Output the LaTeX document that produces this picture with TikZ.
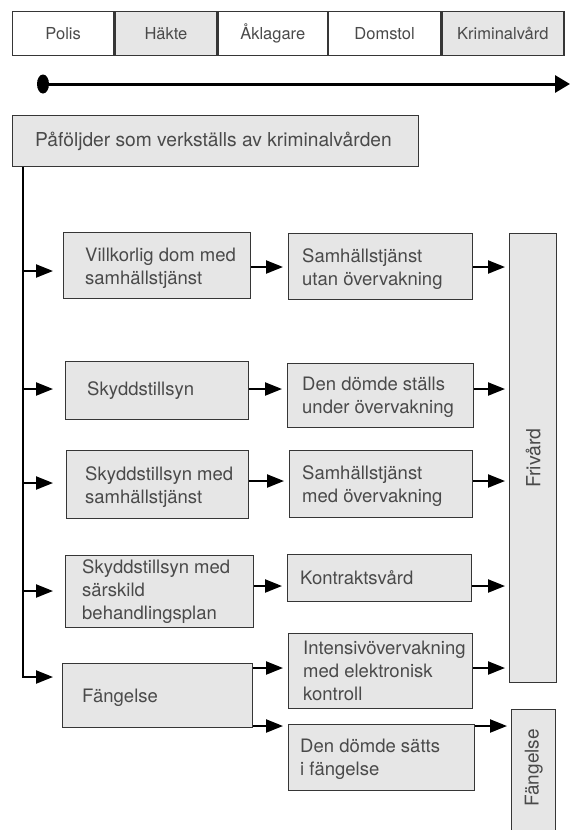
\documentclass[tikz,border=0pt]{standalone}
\usepackage{fontspec}
\setmainfont{TeX Gyre Heros}
\usepackage{xcolor}
\usepackage{tikz}
\usetikzlibrary{shapes.geometric}
\usetikzlibrary{positioning}
\usetikzlibrary{arrows.meta}

\definecolor{boxgray}{HTML}{E6E6E6}
\definecolor{edgegray}{HTML}{363636}
\definecolor{textgray}{HTML}{4A4A4A}

\tikzset{
  box/.style={draw=edgegray, fill=boxgray, line width=1.3pt, anchor=north west, inner sep=0pt, text=textgray},
  stage/.style={box, minimum height=44pt, font=\fontsize{16.5}{20}\selectfont},
  lbl/.style={align=left, inner sep=0pt, text=textgray, font=\fontsize{18.5}{23}\selectfont},
  arr/.style={-{Triangle[length=17pt,width=13pt]}, line width=2.2pt},
}

\begin{document}
\begin{tikzpicture}[x=1pt, y=-1pt]
  \useasboundingbox (0,0) rectangle (570,830);

  % stages
  \node [stage, fill=white, minimum width=101pt] (polis) at (12,11) {Polis};
  \node [stage, minimum width=102pt] (hakte) at (polis.north east) {Häkte};
  \node [stage, fill=white, minimum width=109pt] (aklagare) at (hakte.north east) {Åklagare};
  \node [stage, fill=white, minimum width=112pt] (domstol) at (aklagare.north east) {Domstol};
  \node [stage, minimum width=122pt] (krim) at (domstol.north east) {Kriminalvård};

  % time line
  \node [ellipse, fill=black, minimum width=12pt, minimum height=19pt, inner sep=0pt] (start) at (43,84) {};
  \coordinate (stop) at (570,84);
  \draw [-{Triangle[length=15pt,width=17pt]}, line width=3pt] (start.center) -- (stop);

  % title
  \node [box, minimum width=406pt, minimum height=51pt] (title) at (12,115) {};
  \node [lbl, right=23pt of title.west, font=\fontsize{19.2}{23}\selectfont] {Påföljder som verkställs av kriminalvården};

  % left column
  \node [box, minimum width=187pt, minimum height=66pt] (villkor) at (63,232) {};
  \node [lbl, right=22pt of villkor.west, yshift=-3pt] {Villkorlig dom med\\samhällstjänst};
  \node [box, minimum width=183pt, minimum height=58pt] (skydd) at (65,361) {};
  \node [lbl, right=22pt of skydd.west] {Skyddstillsyn};
  \node [box, minimum width=182pt, minimum height=68pt] (skyddsamh) at (66,450) {};
  \node [lbl, right=19pt of skyddsamh.west, yshift=-2pt] {Skyddstillsyn med\\samhällstjänst};
  \node [box, minimum width=188pt, minimum height=72pt] (sarskild) at (65,555) {};
  \node [lbl, right=17pt of sarskild.west] {Skyddstillsyn med\\särskild\\behandlingsplan};
  \node [box, minimum width=190pt, minimum height=64pt] (fangelse) at (62,663) {};
  \node [lbl, right=20pt of fangelse.west, yshift=-2pt] {Fängelse};

  % middle column
  \node [box, minimum width=184pt, minimum height=66pt] (samh) at (288,233) {};
  \node [lbl, right=14pt of samh.west, yshift=-2pt] {Samhällstjänst\\utan övervakning};
  \node [box, minimum width=186pt, minimum height=64pt] (stalls) at (287,363) {};
  \node [lbl, right=15pt of stalls.west, yshift=-2pt] {Den dömde ställs\\under övervakning};
  \node [box, minimum width=183pt, minimum height=67pt] (samhover) at (289,450) {};
  \node [lbl, right=13pt of samhover.west, yshift=-2pt] {Samhällstjänst\\med övervakning};
  \node [box, minimum width=184pt, minimum height=47pt] (kontrakt) at (287,554) {};
  \node [lbl, right=13pt of kontrakt.west] {Kontraktsvård};
  \node [box, minimum width=184pt, minimum height=75pt] (intensiv) at (288,633) {};
  \node [lbl, right=15pt of intensiv.west] {Intensivövervakning\\med elektronisk\\kontroll};
  \node [box, minimum width=186pt, minimum height=66pt] (satts) at (288,724) {};
  \node [lbl, right=12pt of satts.west, yshift=-2pt] {Den dömde sätts\\i fängelse};

  % right column
  \node [box, minimum width=47pt, minimum height=449pt, font=\fontsize{19.5}{23}\selectfont] (frivard) at (509,233) {\rotatebox{90}{Frivård}};
  \node [box, minimum width=44pt, minimum height=140pt] (anstalt) at (511,709) {};
  \node [lbl, below=59pt of anstalt.north, anchor=center, font=\fontsize{19}{23}\selectfont] {\rotatebox{90}{Fängelse}};

  % trunk
  \coordinate (top) at ([xshift=11pt]title.south west);
  \coordinate (b1) at (23,271);
  \coordinate (b2) at (23,389);
  \coordinate (b3) at (23,483);
  \coordinate (b4) at (23,591);
  \coordinate (b5) at (23,677);
  \draw [arr] (top) -- (b5) -- ++(30,0);
  \foreach \b in {b1,b2,b3,b4}
    \draw [arr] (\b) -- ++(30,0);

  % rows
  \coordinate (r1) at (0,267);
  \coordinate (r2) at (0,389);
  \coordinate (r3) at (0,481);
  \coordinate (r4) at (0,586);
  \coordinate (r5) at (0,668);
  \coordinate (r6) at (0,726);
  \foreach \a/\c/\r in {villkor/samh/r1, skydd/stalls/r2, skyddsamh/samhover/r3, sarskild/kontrakt/r4, fangelse/intensiv/r5, fangelse/satts/r6}
    \draw [arr, shorten >=5pt] (\a.east |- \r) -- (\c.west |- \r);
  \foreach \a/\r in {samh/r1, stalls/r2, samhover/r3, kontrakt/r4, intensiv/r5}
    \draw [arr, shorten >=4pt] (\a.east |- \r) -- (frivard.west |- \r);
  \draw [arr, shorten >=4pt] (satts.east |- r6) -- (anstalt.west |- r6);
\end{tikzpicture}
\end{document}
